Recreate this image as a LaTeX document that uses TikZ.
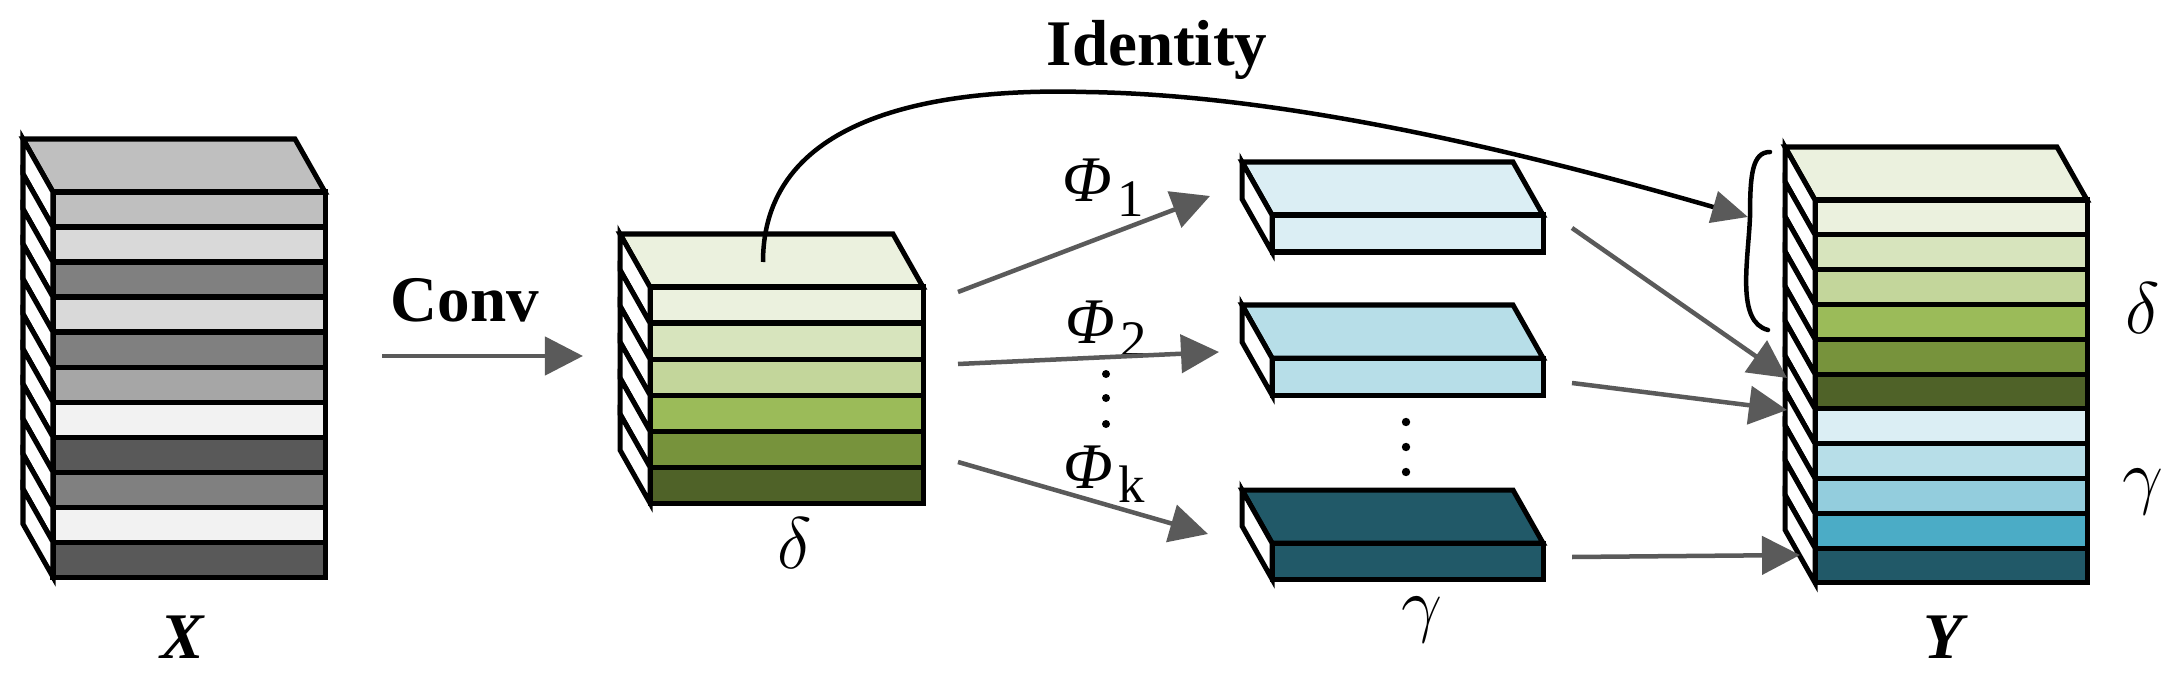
\documentclass[tikz,border=0pt]{standalone}
\usepackage{fontspec}
\setmainfont{Liberation Serif}
\usetikzlibrary{arrows.meta}
\definecolor{xca}{HTML}{BFBFBF}
\definecolor{xcb}{HTML}{D9D9D9}
\definecolor{xcc}{HTML}{808080}
\definecolor{xcd}{HTML}{A6A6A6}
\definecolor{xce}{HTML}{F2F2F2}
\definecolor{xcf}{HTML}{595959}
\definecolor{gra}{HTML}{EBF1DE}
\definecolor{grb}{HTML}{D7E4BD}
\definecolor{grc}{HTML}{C3D69B}
\definecolor{grd}{HTML}{9BBB59}
\definecolor{gre}{HTML}{77933C}
\definecolor{grf}{HTML}{4F6228}
\definecolor{bla}{HTML}{DBEEF4}
\definecolor{blb}{HTML}{B7DEE8}
\definecolor{blc}{HTML}{93CDDD}
\definecolor{bld}{HTML}{4BACC6}
\definecolor{ble}{HTML}{215968}
\definecolor{agray}{HTML}{5A5A5A}
\newcommand\stackbox[6]{%
  \def\sbL{#1}\def\sbR{#2}\def\sbT{#3}\def\sbH{#4}%
  \filldraw[boxline, fill=#5] (#1,#3) -- (#2,#3) -- ++(-30,-53) -- ++({#1-#2},0) -- cycle;
  \foreach \c [count=\i from 0] in {#6} {
    \pgfmathsetmacro\ya{\sbT+\i*\sbH}
    \pgfmathsetmacro\yb{\sbT+(\i+1)*\sbH}
    \filldraw[boxline, fill=\c] (\sbL,\ya) rectangle (\sbR,\yb);
    \filldraw[boxline, fill=white] (\sbL,\ya) -- ++(-30,-53) -- ++(0,\sbH) -- (\sbL,\yb) -- cycle;
  }
}
\begin{document}
\begin{tikzpicture}[x=0.01cm,y=-0.01cm,
  boxline/.style={draw=black,line width=0.05cm,line join=miter},
  garrow/.style={draw=agray,line width=0.045cm,-{Triangle[length=0.38cm,width=0.38cm,fill=agray]}},
  lbl/.style={inner sep=0pt,font=\fontsize{18.5}{22}\selectfont},
  glbl/.style={inner sep=0pt,font=\fontsize{20}{22}\selectfont},
  dot/.style={fill=black}]
\useasboundingbox (0,0) rectangle (2182,679);

% blocks
\stackbox{53}{325}{192}{35}{xca}{xca,xcb,xcc,xcb,xcc,xcd,xce,xcf,xcc,xce,xcf}
\stackbox{650}{923}{287}{36}{gra}{gra,grb,grc,grd,gre,grf}
\stackbox{1272}{1543}{215}{37}{bla}{bla}
\stackbox{1272}{1543}{358}{37}{blb}{blb}
\stackbox{1272}{1543}{543}{36}{ble}{ble}
\stackbox{1815}{2087}{200}{34.8}{gra}{gra,grb,grc,grd,gre,grf,bla,blb,blc,bld,ble}

% labels
\node[lbl] (lX) at (183,637) {\textbf{\textit{X}}};
\node[lbl] (lY) at (1946,637) {\textbf{\textit{Y}}};
\node[glbl] (ldelta) at (795,543) {$\delta$};
\node[glbl] (lgamma) at (1422,620) {$\gamma$};
\node[glbl] (rdelta) at (2143,308) {$\delta$};
\node[glbl] (rgamma) at (2143,492) {$\gamma$};
\node[lbl] (lconv) at (465,300) {\textbf{Conv}};
\node[lbl] (lid) at (1157,50) {\textbf{Identity}};
\node[lbl,anchor=base west] (lphi1) at (1062,202) {\textit{Φ}\kern1.5pt\raisebox{-0.14cm}{\fontsize{15}{15}\selectfont 1}};
\node[lbl,anchor=base west] (lphi2) at (1065,343) {\textit{Φ}\kern1.5pt\raisebox{-0.14cm}{\fontsize{15}{15}\selectfont 2}};
\node[lbl,anchor=base west] (lphik) at (1063,488) {\textit{Φ}\kern1.5pt\raisebox{-0.14cm}{\fontsize{15}{15}\selectfont k}};

% dots
\foreach \yy in {374,398,424} \fill[dot] (1106,\yy) circle[radius=0.04cm];
\foreach \yy in {422,447,472} \fill[dot] (1406,\yy) circle[radius=0.042cm];

% connector end points
\coordinate (conv-s) at (382,356);
\coordinate (conv-e) at (583,356);
\coordinate (d-out1) at (958,292);
\coordinate (d-out2) at (958,364);
\coordinate (d-out3) at (958,462);
\coordinate (g1-in) at (1210,196);
\coordinate (g2-in) at (1219,352);
\coordinate (g3-in) at (1208,534);
\coordinate (g1-out) at (1572,228);
\coordinate (g2-out) at (1572,383);
\coordinate (g3-out) at (1572,557);
\coordinate (y-in1) at (1787,378);
\coordinate (y-in2) at (1787,410);
\coordinate (y-in3) at (1800,555);
\coordinate (id-s) at (763,262);
\coordinate (id-m) at (1086,92);
\coordinate (id-e) at (1748,217);

% arrows
\draw[garrow] (conv-s) -- (conv-e);
\draw[garrow] (d-out1) -- (g1-in);
\draw[garrow] (d-out2) -- (g2-in);
\draw[garrow] (d-out3) -- (g3-in);
\draw[garrow] (g1-out) -- (y-in1);
\draw[garrow] (g2-out) -- (y-in2);
\draw[garrow] (g3-out) -- (y-in3);

% identity curve
\draw[line width=0.045cm,-{Triangle[length=0.36cm,width=0.32cm,color=agray,fill=agray]}]
  (id-s) .. controls (763,110) and (950,88) .. (id-m)
  .. controls (1300,95) and (1550,160) .. (id-e);

% brace
\draw[line width=0.045cm,line cap=round]
  (1770,152) .. controls (1752,152) and (1750,175) .. (1750,217)
  .. controls (1748,262) and (1736,322) .. (1768,330);
\end{tikzpicture}
\end{document}
